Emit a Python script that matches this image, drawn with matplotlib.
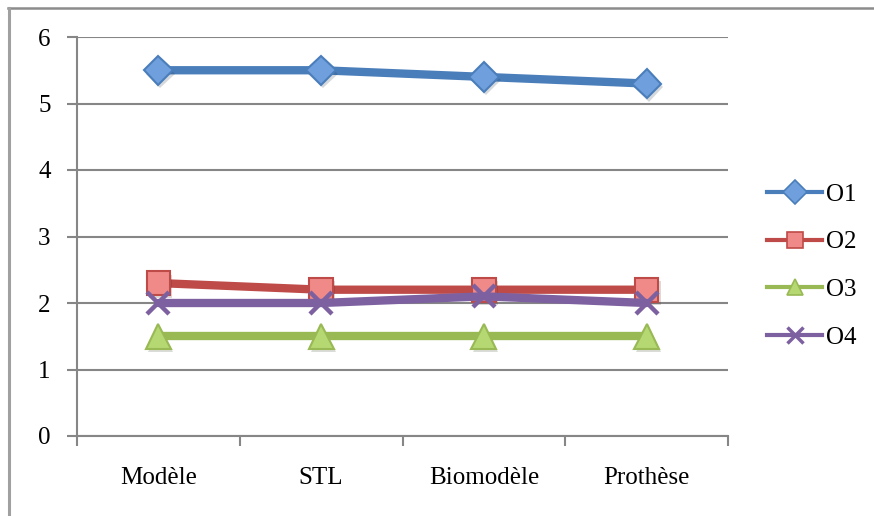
import matplotlib
matplotlib.use("Agg")
import matplotlib.pyplot as plt
from matplotlib.lines import Line2D
import matplotlib.patheffects as pe

categories = ["Modèle", "STL", "Biomodèle", "Prothèse"]
series_names = ["O1", "O2", "O3", "O4"]
o1 = [5.5, 5.5, 5.4, 5.3]
o2 = [2.3, 2.2, 2.2, 2.2]
o3 = [1.5, 1.5, 1.5, 1.5]
o4 = [2.0, 2.0, 2.1, 2.0]
y_ticks = [0, 1, 2, 3, 4, 5, 6]

line_colors = ["#4A7EBB", "#BE4B48", "#98B954", "#7D60A0"]
face_colors = ["#6F9FDC", "#F08A88", "#B5D872", "#7D60A0"]
markers = ["D", "s", "^", "x"]
msizes = [15, 17, 18, 16]

W, H = 874, 516
fig = plt.figure(figsize=(W / 100, H / 100), dpi=100)
plt.rcParams['font.family'] = ['Liberation Serif', 'DejaVu Serif']
FS = 18

# outer frame
fig.add_artist(Line2D([8 / W, 1], [1 - 8 / H, 1 - 8 / H], color="#8C8C8C", lw=1.8, transform=fig.transFigure))
fig.add_artist(Line2D([9 / W, 9 / W], [0, 1 - 8 / H], color="#A0A0A0", lw=2.2, transform=fig.transFigure))

left, right, top, bottom = 77, 728, 37, 436
ax = fig.add_axes([left / W, 1 - bottom / H, (right - left) / W, (bottom - top) / H])

x = list(range(len(categories)))
data = [o1, o2, o3, o4]
shadow = [pe.SimplePatchShadow(offset=(1.5, -2.5), alpha=0.18), pe.Normal()]
handles = []
for i, (vals, name) in enumerate(zip(data, series_names)):
    lc, fc, m, ms = line_colors[i], face_colors[i], markers[i], msizes[i]
    ax.plot(x, vals, color=lc, lw=6, zorder=3 + 2 * i, solid_capstyle="round")
    if m == "x":
        ax.plot(x, vals, ls="none", color=lc, marker=m, ms=ms, mew=3.2, zorder=4 + 2 * i)
        h = Line2D([], [], color=lc, lw=3, marker=m, ms=12, mew=2.5)
    else:
        ax.plot(x, vals, ls="none", color=lc, marker=m, ms=ms, mfc=fc, mec=lc, mew=1.5,
                zorder=4 + 2 * i, path_effects=shadow)
        h = Line2D([], [], color=lc, lw=3, marker=m, ms=12, mfc=fc, mec=lc, mew=1.2)
    handles.append(h)

ax.set_xlim(-0.5, len(categories) - 0.5)
ax.set_ylim(0, 6)
ax.set_yticks(y_ticks)
ax.set_yticklabels([str(t) for t in y_ticks], fontsize=FS)
ax.set_xticks(x)
ax.set_xticklabels(categories, fontsize=FS)
ax.set_xticks([i - 0.5 for i in range(len(categories) + 1)], minor=True)
ax.tick_params(axis="x", which="major", length=0, pad=22)
ax.tick_params(axis="x", which="minor", length=7, width=1.5, color="#868686")
ax.tick_params(axis="y", length=7, width=1.5, color="#868686", pad=12)
ax.yaxis.grid(True, color="#868686", lw=1.5)
ax.set_axisbelow(True)
for s in ["top", "right"]:
    ax.spines[s].set_visible(False)
for s in ["left", "bottom"]:
    ax.spines[s].set_color("#868686")
    ax.spines[s].set_linewidth(1.5)

fig.legend(handles, series_names, loc="center left", bbox_to_anchor=(767 / W, 1 - 266 / H),
           frameon=False, fontsize=FS, handlelength=2.2, labelspacing=1.0, handletextpad=0.15,
           borderpad=0, borderaxespad=0)

fig.savefig("out.png", dpi=100)
